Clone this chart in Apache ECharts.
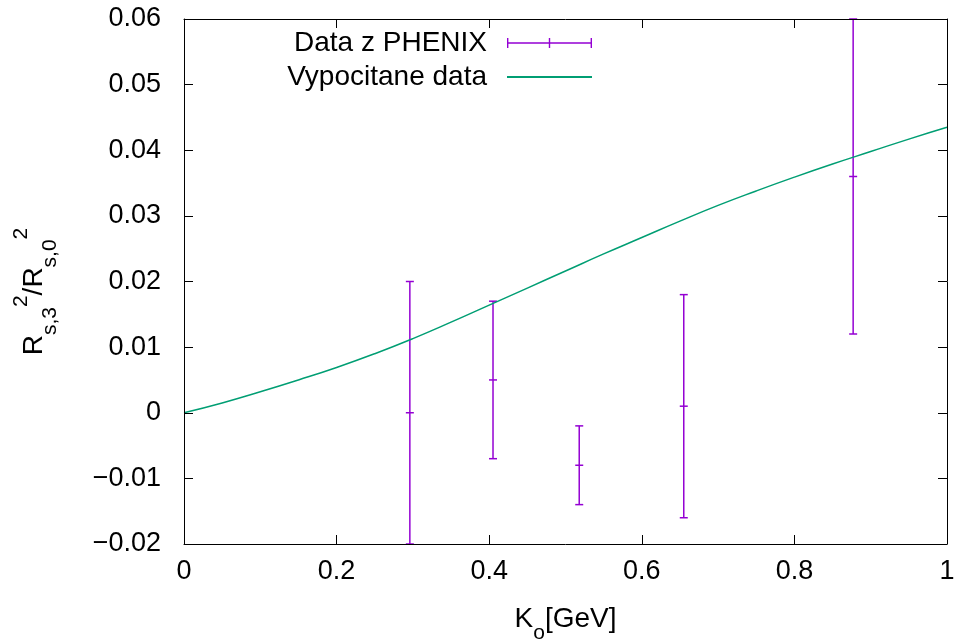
<!DOCTYPE html>
<html>
<head>
<meta charset="utf-8">
<script src="https://cdn.jsdelivr.net/npm/echarts@6/dist/echarts.min.js"></script>
<style>html,body{margin:0;padding:0;background:#fff}#c{width:958px;height:644px}</style>
</head>
<body>
<div id="c"></div>
<script>
// ---- data ----
const curveX = [0, 0.05, 0.1, 0.15, 0.2, 0.25, 0.3, 0.35, 0.4, 0.45, 0.5, 0.55, 0.6, 0.65, 0.7, 0.75, 0.8, 0.85, 0.9, 0.95, 1.0];
const curveY = [0, 0.0015, 0.0032, 0.0050, 0.0069, 0.0090, 0.0113, 0.0138, 0.0164, 0.0190, 0.0216, 0.0242, 0.0267, 0.0292, 0.0316, 0.0338, 0.0359, 0.0379, 0.0398, 0.0417, 0.0435];
const dataX = [0.296, 0.405, 0.518, 0.655, 0.877];
const dataY = [0.0, 0.005, -0.008, 0.001, 0.036];
const dataLow = [-0.02, -0.007, -0.014, -0.016, 0.012];
const dataHigh = [0.02, 0.017, -0.002, 0.018, 0.06];
const xTickLabels = ['0', '0.2', '0.4', '0.6', '0.8', '1'];
const yTickLabels = ['\u22120.02', '\u22120.01', '0', '0.01', '0.02', '0.03', '0.04', '0.05', '0.06'];
const seriesNames = ['Data z PHENIX', 'Vypocitane data'];

const X_MIN = 0, X_MAX = 1, X_INT = 0.2;
const Y_MIN = -0.02, Y_MAX = 0.06, Y_INT = 0.01;
const PURPLE = '#9400d3', GREEN = '#009e73';
const FONT = 'Liberation Sans';

const chart = echarts.init(document.getElementById('c'));

const axisCommon = {
  type: 'value',
  axisLine: { show: true, onZero: false, lineStyle: { color: '#000', width: 1 } },
  axisTick: { show: true, inside: true, length: 9, lineStyle: { color: '#000', width: 1 } },
  splitLine: { show: false },
  z: 10
};

const xFmt = v => xTickLabels[Math.round((v - X_MIN) / X_INT)];
const yFmt = v => yTickLabels[Math.round((v - Y_MIN) / Y_INT)];

chart.setOption({
  animation: false,
  backgroundColor: '#fff',
  textStyle: { fontFamily: FONT },
  grid: { left: 184, right: 11, top: 19, bottom: 100, containLabel: false, outerBoundsMode: 'none' },
  legend: {
    orient: 'vertical',
    align: 'right',
    right: 365,
    top: 28,
    padding: 0,
    itemWidth: 85,
    itemHeight: 10,
    itemGap: 4,
    textStyle: { fontSize: 28, fontFamily: FONT, color: '#000', lineHeight: 30, padding: [0, 15, 0, 0] },
    data: [
      { name: seriesNames[0], icon: 'path://M0,4.3h85v1.4h-85zM0,0h1.4v10h-1.4zM41.8,0h1.4v10h-1.4zM83.6,0h1.4v10h-1.4z' },
      { name: seriesNames[1], itemStyle: { opacity: 0 } }
    ]
  },
  xAxis: [
    Object.assign({}, axisCommon, {
      position: 'bottom', min: X_MIN, max: X_MAX, interval: X_INT,
      axisLabel: { fontSize: 27, color: '#000', fontFamily: FONT, margin: 14, formatter: xFmt },
      name: '{a|K}{sub|o}{a|[GeV]}',
      nameLocation: 'middle',
      nameGap: 61,
      nameTextStyle: {
        color: '#000', fontFamily: FONT,
        rich: {
          a: { fontSize: 28, fontFamily: FONT, color: '#000', lineHeight: 30, verticalAlign: 'top' },
          sub: { fontSize: 21, fontFamily: FONT, color: '#000', lineHeight: 20, verticalAlign: 'top', padding: [18, 0, 0, 0] }
        }
      }
    }),
    Object.assign({}, axisCommon, {
      position: 'top', min: X_MIN, max: X_MAX, interval: X_INT,
      axisLabel: { show: false }
    })
  ],
  yAxis: [
    Object.assign({}, axisCommon, {
      position: 'left', min: Y_MIN, max: Y_MAX, interval: Y_INT,
      axisLabel: { fontSize: 27, color: '#000', fontFamily: FONT, margin: 23, formatter: yFmt },
      name: '{a|R}{sub|s,3}{sup|2}{a|/R}{sub|s,0}{sup|2}',
      nameLocation: 'middle',
      nameRotate: 90,
      nameGap: 143,
      nameTextStyle: {
        color: '#000', fontFamily: FONT,
        padding: [0, 20, 0, 0],
        rich: {
          a: { fontSize: 28, fontFamily: FONT, color: '#000', lineHeight: 30, verticalAlign: 'top', padding: [9, 0, 0, 0] },
          sub: { fontSize: 21, fontFamily: FONT, color: '#000', lineHeight: 20, verticalAlign: 'top', padding: [29, 0, 0, 0] },
          sup: { fontSize: 21, fontFamily: FONT, color: '#000', lineHeight: 20, verticalAlign: 'top', padding: [0, 0, 0, 0] }
        }
      }
    }),
    Object.assign({}, axisCommon, {
      position: 'right', min: Y_MIN, max: Y_MAX, interval: Y_INT,
      axisLabel: { show: false }
    })
  ],
  series: [
    {
      name: seriesNames[0],
      type: 'custom',
      xAxisIndex: 0, yAxisIndex: 0,
      itemStyle: { color: PURPLE },
      z: 3,
      clip: false,
      data: dataX.map((x, i) => [x, dataY[i], dataLow[i], dataHigh[i]]),
      encode: { x: 0, y: [1, 2, 3] },
      renderItem: function (params, api) {
        const x = api.value(0);
        const pc = api.coord([x, api.value(1)]);
        const pl = api.coord([x, api.value(2)]);
        const ph = api.coord([x, api.value(3)]);
        const hw = 4;
        const st = { stroke: PURPLE, lineWidth: 1.5 };
        return {
          type: 'group',
          children: [
            { type: 'line', shape: { x1: pl[0], y1: pl[1], x2: ph[0], y2: ph[1] }, style: st },
            { type: 'line', shape: { x1: pl[0] - hw, y1: pl[1], x2: pl[0] + hw, y2: pl[1] }, style: st },
            { type: 'line', shape: { x1: ph[0] - hw, y1: ph[1], x2: ph[0] + hw, y2: ph[1] }, style: st },
            { type: 'line', shape: { x1: pc[0] - hw, y1: pc[1], x2: pc[0] + hw, y2: pc[1] }, style: st }
          ]
        };
      }
    },
    {
      name: seriesNames[1],
      type: 'line',
      xAxisIndex: 0, yAxisIndex: 0,
      smooth: true,
      symbol: 'none',
      z: 4,
      color: GREEN,
      lineStyle: { color: GREEN, width: 1.5 },
      data: curveX.map((x, i) => [x, curveY[i]])
    }
  ]
});
</script>
</body>
</html>
